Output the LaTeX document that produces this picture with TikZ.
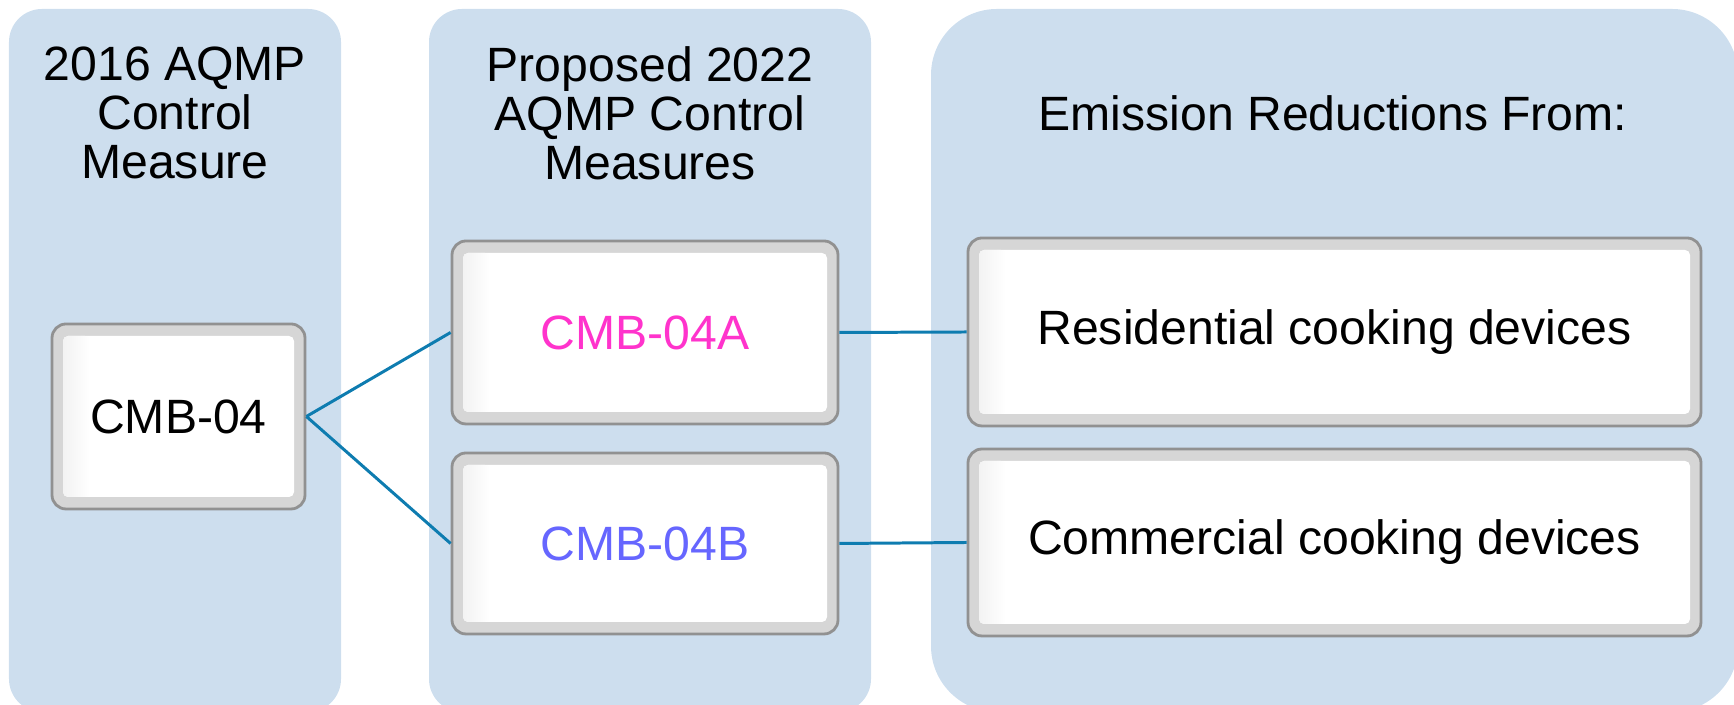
\documentclass[tikz,border=0pt]{standalone}
\usepackage{fontspec}
\setmainfont{Liberation Sans}
\definecolor{panelblue}{RGB}{205,222,238}
\definecolor{linkblue}{RGB}{14,124,176}
\definecolor{boxedge}{RGB}{145,145,145}
\definecolor{boxband}{RGB}{214,214,214}
\definecolor{cmbpink}{RGB}{255,51,204}
\definecolor{cmbblue}{RGB}{102,102,255}
\newcommand{\mainsize}{\fontsize{13.7}{13.9}\selectfont}
\tikzset{
  cmbbox/.style={draw=boxedge,line width=0.8pt,fill=boxband,rounded corners=0.14cm,inner sep=0pt,font=\mainsize,
    path picture={
      \fill[white,rounded corners=0.05cm] ([shift={(0.11,0.12)}]path picture bounding box.south west) rectangle ([shift={(-0.11,-0.12)}]path picture bounding box.north east);
      \shade[left color=boxband!30,right color=white,rounded corners=0.05cm] ([shift={(0.11,0.12)}]path picture bounding box.south west) rectangle ([shift={(0.38,-0.12)}]path picture bounding box.north west);
    }},
  heading/.style={align=center,font=\mainsize},
  link/.style={linkblue,line width=0.85pt}
}
\begin{document}
\begin{tikzpicture}
    \useasboundingbox (0,0) rectangle (17.34,7.05);
    \clip (0,0) rectangle (17.34,7.05);
    % column panels
    \fill[panelblue,rounded corners=0.33cm] (0.09,-0.07) rectangle (3.41,6.96);
    \fill[panelblue,rounded corners=0.33cm] (4.29,-0.07) rectangle (8.71,6.96);
    \fill[panelblue,rounded corners=0.66cm] (9.31,-0.07) rectangle (17.38,6.96);
    \node[heading] (head2016) at (1.75,5.92) {2016 AQMP\\Control\\Measure};
    \node[heading] (head2022) at (6.50,5.92) {Proposed 2022\\AQMP Control\\Measures};
    \node[heading] (headred) at (13.33,5.92) {Emission Reductions From:};
    % measures
    \node[cmbbox,minimum width=2.53cm,minimum height=1.85cm] (cmb) at (1.785,2.885) {CMB-04};
    \node[cmbbox,minimum width=3.86cm,minimum height=1.83cm,text=cmbpink] (cmba) at (6.45,3.725) {CMB-04A};
    \node[cmbbox,minimum width=3.86cm,minimum height=1.81cm,text=cmbblue] (cmbb) at (6.45,1.615) {CMB-04B};
    \node[cmbbox,minimum width=7.33cm,minimum height=1.88cm] (resid) at (13.345,3.73) {Residential cooking devices};
    \node[cmbbox,minimum width=7.33cm,minimum height=1.87cm] (comm) at (13.345,1.625) {Commercial cooking devices};
    \draw[link] (cmb.east) -- (cmba.west);
    \draw[link] (cmb.east) -- (cmbb.west);
    \draw[link] (cmba.east) -- (resid.west);
    \draw[link] (cmbb.east) -- (comm.west);
  \end{tikzpicture}
\end{document}
